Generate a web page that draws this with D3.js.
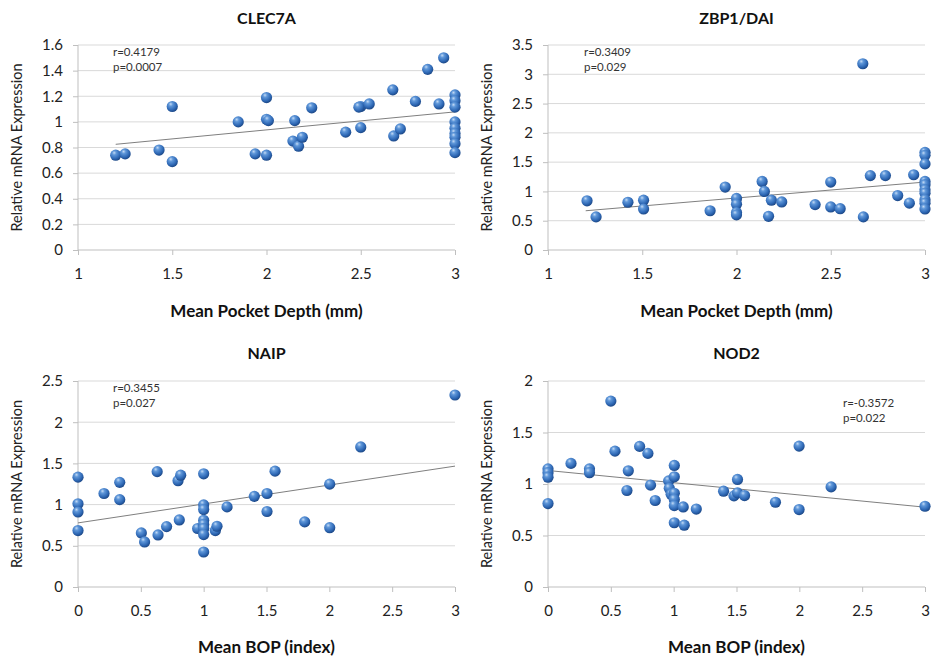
<!DOCTYPE html>
<html><head><meta charset="utf-8">
<script src="https://cdn.jsdelivr.net/npm/d3@7"></script>
<style>
html,body{margin:0;padding:0;background:#fff;}
svg{display:block;font-family:Lato,"Open Sans",sans-serif;}
</style></head>
<body><svg id="c" width="934" height="662"></svg>
<script>
// ---- data ----
const clecX = [1.20,1.25,1.43,1.50,1.50,1.85,1.94,2.00,2.00,2.01,2.00,2.14,2.15,2.17,2.19,2.24,2.42,2.50,2.50,2.49,2.545,2.67,2.675,2.71,2.79,2.855,2.915,2.94,3,3,3,3,3,3,3,3,3];
const clecY = [0.74,0.75,0.78,1.12,0.69,1.00,0.75,1.19,1.02,1.01,0.74,0.85,1.01,0.81,0.88,1.11,0.92,0.955,1.12,1.115,1.14,1.25,0.89,0.945,1.16,1.41,1.14,1.50,1.21,1.165,1.115,1.00,0.95,0.91,0.88,0.83,0.76];
const clecTrend = [[1.2,0.825],[3,1.078]];
const clecStats = ["r=0.4179","p=0.0007"];

const zbpX = [1.207,1.255,1.424,1.507,1.507,1.86,1.94,2.0,2.0,2.0,2.0,2.136,2.148,2.17,2.185,2.24,2.417,2.50,2.50,2.55,2.67,2.673,2.71,2.79,2.855,2.917,2.94,3,3,3,3,3,3,3,3,3,3];
const zbpY = [0.84,0.565,0.815,0.85,0.70,0.67,1.075,0.88,0.78,0.64,0.60,1.17,1.0,0.575,0.85,0.82,0.775,1.16,0.735,0.705,3.18,0.565,1.27,1.27,0.93,0.80,1.285,1.667,1.616,1.47,1.17,1.115,1.03,0.97,0.86,0.80,0.70];
const zbpTrend = [[1.2,0.67],[3,1.16]];
const zbpStats = ["r=0.3409","p=0.029"];

const naipX = [0,0,0,0,0.207,0.332,0.332,0.504,0.53,0.63,0.637,0.705,0.796,0.817,0.806,0.952,1.0,1.0,1.0,1.0,1.0,1.0,1.0,1.0,1.093,1.106,1.186,1.403,1.504,1.504,1.568,1.804,2.003,2.003,2.25,3.0];
const naipY = [1.333,1.01,0.91,0.685,1.135,1.27,1.06,0.656,0.547,1.40,0.632,0.733,1.29,1.357,0.814,0.71,1.374,0.997,0.94,0.81,0.76,0.71,0.636,0.425,0.685,0.737,0.972,1.10,1.135,0.916,1.406,0.79,1.248,0.72,1.70,2.33];
const naipTrend = [[0,0.778],[3,1.467]];
const naipStats = ["r=0.3455","p=0.027"];

const nodX = [0,0,0,0,0.183,0.33,0.33,0.50,0.533,0.628,0.639,0.729,0.795,0.816,0.853,0.96,0.965,0.98,1.005,1.005,1.005,1.005,1.005,1.005,1.076,1.084,1.18,1.397,1.48,1.508,1.508,1.564,1.81,1.998,1.998,2.253,3.0];
const nodY = [1.147,1.11,1.066,0.81,1.20,1.147,1.11,1.805,1.319,0.937,1.128,1.365,1.297,0.989,0.84,1.03,0.958,0.90,1.18,1.07,0.91,0.85,0.79,0.624,0.777,0.60,0.757,0.93,0.885,1.044,0.914,0.888,0.823,1.368,0.752,0.972,0.784];
const nodTrend = [[0,1.131],[3,0.775]];
const nodStats = ["r=-0.3572","p=0.022"];

const pdTicks = [1,1.5,2,2.5,3];
const bopTicks = [0,0.5,1,1.5,2,2.5,3];
const clecYTicks = [0,0.2,0.4,0.6,0.8,1,1.2,1.4,1.6];
const zbpYTicks = [0,0.5,1,1.5,2,2.5,3,3.5];
const naipYTicks = [0,0.5,1,1.5,2,2.5];
const nodYTicks = [0,0.5,1,1.5,2];
const yTitle = "Relative mRNA Expression";

const panels = [
 {title:"CLEC7A", xs:clecX, ys:clecY, trend:clecTrend, stats:clecStats, xTicks:pdTicks, yTicks:clecYTicks, xlabel:"Mean Pocket Depth (mm)",
  L:78, R:455, T:45, B:250, annX:113, annY:56, titleY:24, xlabY:317, ylabX:22},
 {title:"ZBP1/DAI", xs:zbpX, ys:zbpY, trend:zbpTrend, stats:zbpStats, xTicks:pdTicks, yTicks:zbpYTicks, xlabel:"Mean Pocket Depth (mm)",
  L:548, R:925, T:45, B:250, annX:584, annY:56, titleY:24, xlabY:317, ylabX:492},
 {title:"NAIP", xs:naipX, ys:naipY, trend:naipTrend, stats:naipStats, xTicks:bopTicks, yTicks:naipYTicks, xlabel:"Mean BOP (index)",
  L:78, R:455, T:381, B:587, annX:113, annY:392, titleY:359, xlabY:653, ylabX:22},
 {title:"NOD2", xs:nodX, ys:nodY, trend:nodTrend, stats:nodStats, xTicks:bopTicks, yTicks:nodYTicks, xlabel:"Mean BOP (index)",
  L:548, R:925, T:381, B:587, annX:843, annY:407, titleY:359, xlabY:653, ylabX:492}
];

const svg = d3.select("#c");
const defs = svg.append("defs");
const grad = defs.append("radialGradient").attr("id","ball").attr("cx","40%").attr("cy","34%").attr("r","66%").attr("fx","36%").attr("fy","28%");
grad.append("stop").attr("offset","0%").attr("stop-color","#c3daf5");
grad.append("stop").attr("offset","28%").attr("stop-color","#5f97d9");
grad.append("stop").attr("offset","72%").attr("stop-color","#2f69b6");
grad.append("stop").attr("offset","100%").attr("stop-color","#1c4887");

panels.forEach(p => {
  const g = svg.append("g");
  const xd = d3.extent(p.xTicks), yd = d3.extent(p.yTicks);
  const x = d3.scaleLinear().domain(xd).range([p.L, p.R]);
  const y = d3.scaleLinear().domain(yd).range([p.B, p.T]);

  g.append("g").selectAll("line").data(p.yTicks.filter(v=>v!==0)).join("line")
    .attr("x1", p.L).attr("x2", p.R).attr("y1", d=>y(d)).attr("y2", d=>y(d))
    .attr("stroke","#d9d9d9").attr("stroke-width",1);

  const ax = g.append("g").attr("transform",`translate(0,${p.B})`)
    .call(d3.axisBottom(x).tickValues(p.xTicks).tickFormat(d3.format("~g")).tickSize(5).tickPadding(13));
  const ay = g.append("g").attr("transform",`translate(${p.L},0)`)
    .call(d3.axisLeft(y).tickValues(p.yTicks).tickFormat(d3.format("~g")).tickSize(5).tickPadding(10));
  [ax, ay].forEach(a => {
    a.select(".domain").attr("stroke","#bfbfbf");
    a.selectAll(".tick line").attr("stroke","#bfbfbf");
    a.selectAll(".tick text").attr("fill","#222").style("font-size","15px").style("font-family","Lato,'Open Sans',sans-serif");
  });
  ax.select(".domain").attr("d", `M${p.L},0H${p.R}`);
  ay.select(".domain").attr("d", `M0,${p.B}V${p.T}`);

  g.append("line")
    .attr("x1", x(p.trend[0][0])).attr("y1", y(p.trend[0][1]))
    .attr("x2", x(p.trend[1][0])).attr("y2", y(p.trend[1][1]))
    .attr("stroke","#7f7f7f").attr("stroke-width",1);

  g.append("g").selectAll("circle").data(p.xs.map((v,i)=>[v,p.ys[i]])).join("circle")
    .attr("cx", d=>x(d[0])).attr("cy", d=>y(d[1])).attr("r",5.6)
    .attr("fill","url(#ball)");

  g.selectAll("text.ann").data(p.stats).join("text").attr("class","ann")
    .attr("x", p.annX).attr("y",(d,i)=>p.annY + i*15)
    .attr("fill","#333").style("font-size","11.5px").text(d=>d);

  const mid = (p.L + p.R)/2;
  g.append("text").attr("x", mid).attr("y", p.titleY).attr("text-anchor","middle")
    .attr("fill","#111").style("font-size","16px").style("font-weight","bold").text(p.title);
  g.append("text").attr("x", mid).attr("y", p.xlabY).attr("text-anchor","middle")
    .attr("fill","#111").style("font-size","17px").style("font-weight","bold").text(p.xlabel);
  g.append("text").attr("transform",`translate(${p.ylabX},${(p.T+p.B)/2}) rotate(-90)`)
    .attr("text-anchor","middle").attr("fill","#222").style("font-size","14.5px").text(yTitle);
});
</script>
</body></html>
